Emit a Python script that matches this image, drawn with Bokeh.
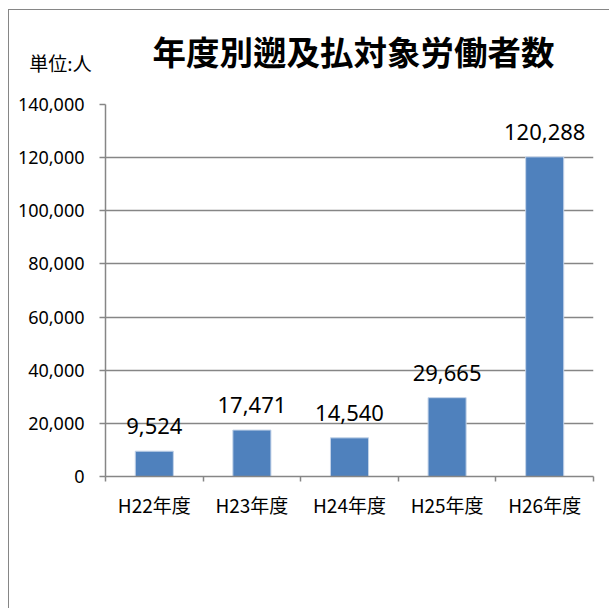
from bokeh.plotting import figure
from bokeh.layouts import column
from bokeh.models import (Range1d, FixedTicker, NumeralTickFormatter, Label,
                          ColumnDataSource, InlineStyleSheet)
from bokeh.embed import file_html
from bokeh.resources import INLINE

# ---- data ----
categories = ["H22年度", "H23年度", "H24年度", "H25年度", "H26年度"]
workers = [9524, 17471, 14540, 29665, 120288]
y_ticks = [0, 20000, 40000, 60000, 80000, 100000, 120000, 140000]
title_text = "年度別遡及払対象労働者数"
unit_text = "単位:人"

centers = [i + 0.5 for i in range(len(categories))]
bounds = [i for i in range(len(categories) + 1)]
labels = [f"{v:,}" for v in workers]

src = ColumnDataSource(dict(x=centers, top=workers, lab=labels))

GRAY = "#868686"
BAR = "#4F81BD"
LW = 1.5
W = 609
HEAD_H = 90

# ---- header (title + unit) ----
head = figure(width=W, height=HEAD_H, output_backend="svg", toolbar_location=None,
              x_range=Range1d(0, W), y_range=Range1d(HEAD_H, 0),
              x_axis_location=None, y_axis_location=None,
              min_border=0, outline_line_color=None,
              background_fill_color="white", border_fill_color="white")
head.grid.visible = False
head.add_layout(Label(x=353, y=50, text=title_text, text_align="center",
                      text_baseline="middle", text_font="Noto Sans CJK JP",
                      text_font_size="33.5px", text_font_style="bold",
                      text_color="#000000"))
head.add_layout(Label(x=60, y=62, text=unit_text, text_align="center",
                      text_baseline="middle", text_font="Noto Sans CJK JP",
                      text_font_size="19px", text_color="#000000"))

# ---- main chart ----
p = figure(width=W, height=608 - HEAD_H, output_backend="svg", toolbar_location=None,
           x_range=Range1d(0, len(categories)), y_range=Range1d(0, y_ticks[-1]),
           min_border_left=105, min_border_right=16, min_border_top=104 - HEAD_H,
           min_border_bottom=132, outline_line_color=None,
           background_fill_color="white", border_fill_color="white")

for fig in (head, p):
    if "frame_align" in fig.properties():
        fig.frame_align = False

p.vbar(x="x", top="top", width=0.39, bottom=0, source=src,
       fill_color=BAR, line_color="#C3D3E8", line_width=1)

p.text(x="x", y="top", text="lab", source=src, text_align="center",
       text_baseline="middle", y_offset=-25, text_font_size="22px",
       text_color="#000000", text_font={"value": "Noto Sans"})

# y axis
p.yaxis.ticker = FixedTicker(ticks=y_ticks)
p.yaxis.formatter = NumeralTickFormatter(format="0,0")
p.yaxis.major_tick_out = 6
p.yaxis.major_tick_in = 0
p.yaxis.minor_tick_out = 0
p.yaxis.minor_tick_in = 0
p.yaxis.axis_line_color = GRAY
p.yaxis.axis_line_width = LW
p.yaxis.major_tick_line_color = GRAY
p.yaxis.major_tick_line_width = LW
p.yaxis.major_label_text_font = "Noto Sans"
p.yaxis.major_label_text_font_size = "18px"
p.yaxis.major_label_text_color = "#000000"
p.yaxis.major_label_standoff = 15

# x axis: labels at category centres, tick marks at category boundaries
p.xaxis.ticker = FixedTicker(ticks=centers, minor_ticks=bounds)
p.xaxis.major_label_overrides = {c: t for c, t in zip(centers, categories)}
p.xaxis.major_tick_out = 0
p.xaxis.major_tick_in = 0
p.xaxis.minor_tick_out = 5
p.xaxis.minor_tick_in = 0
p.xaxis.axis_line_color = GRAY
p.xaxis.axis_line_width = LW
p.xaxis.minor_tick_line_color = GRAY
p.xaxis.minor_tick_line_width = LW
p.xaxis.major_label_text_font = "Noto Sans CJK JP"
p.xaxis.major_label_text_font_size = "19px"
p.xaxis.major_label_text_color = "#000000"
p.xaxis.major_label_standoff = 9

p.xgrid.grid_line_color = None
p.ygrid.ticker = FixedTicker(ticks=y_ticks)
p.ygrid.grid_line_color = GRAY
p.ygrid.grid_line_width = LW

layout = column(head, p, spacing=0)
layout.stylesheets = [InlineStyleSheet(css=(
    ":host::after { content: ''; position: absolute; left: 8px; top: 9px; "
    "width: 601px; height: 599px; border-left: 1.5px solid #868686; "
    "border-top: 1.5px solid #868686; box-sizing: border-box; "
    "pointer-events: none; z-index: 10; }"))]

open("out.html", "w").write(file_html(layout, INLINE))
